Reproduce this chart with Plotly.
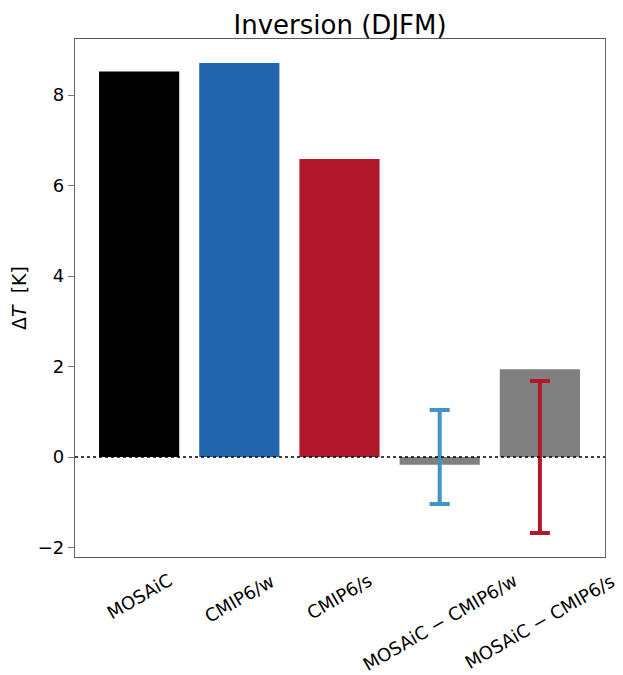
import plotly.graph_objects as go

categories = ["MOSAiC", "CMIP6/w", "CMIP6/s", "MOSAiC − CMIP6/w", "MOSAiC − CMIP6/s"]
values = [8.52, 8.71, 6.59, -0.17, 1.94]
bar_colors = ["#000000", "#2166ac", "#b2182b", "#808080", "#808080"]
err_w = 1.04
err_s = 1.68
y_ticks = [-2, 0, 2, 4, 6, 8]
y_tick_text = ["−2", "0", "2", "4", "6", "8"]

FONT = "DejaVu Sans, Arial, sans-serif"
xs = list(range(len(categories)))

fig = go.Figure()
fig.add_trace(go.Bar(x=xs, y=values, marker=dict(color=bar_colors, line=dict(width=0)),
                     width=0.8, showlegend=False))
# zero line (dotted)
fig.add_shape(type="line", xref="paper", yref="y", x0=0, x1=1, y0=0, y1=0,
              line=dict(color="black", width=1.5, dash="dot"))
# error bars centered at zero
fig.add_trace(go.Scatter(x=[xs[3]], y=[0], mode="markers", marker=dict(size=0.1, color="rgba(0,0,0,0)"),
                         error_y=dict(type="data", array=[err_w], symmetric=True, color="#4393c3",
                                      thickness=4, width=10), showlegend=False, hoverinfo="skip"))
fig.add_trace(go.Scatter(x=[xs[4]], y=[0], mode="markers", marker=dict(size=0.1, color="rgba(0,0,0,0)"),
                         error_y=dict(type="data", array=[err_s], symmetric=True, color="#b2182b",
                                      thickness=4, width=10), showlegend=False, hoverinfo="skip"))

for i, c in enumerate(categories):
    fig.add_annotation(x=i, xref="x", y=-0.02, yref="paper", text=c, showarrow=False,
                       textangle=-30, xanchor="center", yanchor="top",
                       font=dict(family=FONT, size=18, color="black"))

# page body has an 8px margin, so the figure is 8px smaller and shifted
fig.update_layout(
    width=615, height=667,
    margin=dict(l=67, r=18, t=31, b=118, autoexpand=False),
    paper_bgcolor="white", plot_bgcolor="white",
    title=dict(text="Inversion (DJFM)", x=0.54, xanchor="center", y=0.9745, yanchor="middle",
               font=dict(family=FONT, size=26, color="black")),
    font=dict(family=FONT, color="black"),
    bargap=0.2,
)
fig.update_xaxes(range=[-0.64, 4.65], showticklabels=False, ticks="", showgrid=False, zeroline=False,
                 showline=True, linecolor="#555555", linewidth=1.2, mirror=True, automargin=False)
fig.update_yaxes(range=[-2.21, 9.24], tickvals=y_ticks, ticktext=y_tick_text, ticks="outside",
                 ticklen=6, tickcolor="#777777", tickwidth=1.2, showgrid=False, zeroline=False,
                 showline=True, linecolor="#666666", linewidth=1.2, mirror=True, automargin=False,
                 tickfont=dict(family=FONT, size=18, color="black"),
                 title=dict(text="Δ<i>T</i>  [K]", font=dict(family=FONT, size=19, color="black"), standoff=7))

fig.write_html("out.html")
